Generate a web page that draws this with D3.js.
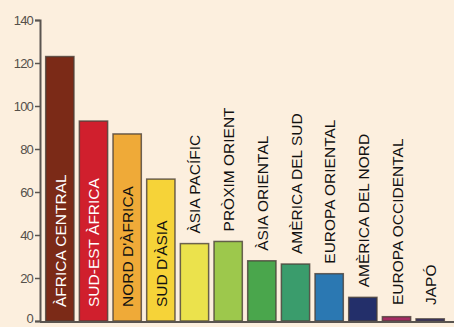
<!DOCTYPE html>
<html>
<head>
<meta charset="utf-8">
<script src="https://cdn.jsdelivr.net/npm/d3@7"></script>
<style>
  html, body { margin: 0; padding: 0; background: #fcefde; }
  svg { display: block; }
</style>
</head>
<body>
<div id="chart"></div>
<script>
// regions, in the order of the bars
var regions = ["ÀFRICA CENTRAL", "SUD-EST ÀFRICA", "NORD D'ÀFRICA", "SUD D'ÀSIA",
  "ÀSIA PACÍFIC", "PRÒXIM ORIENT", "ÀSIA ORIENTAL", "AMÈRICA DEL SUD",
  "EUROPA ORIENTAL", "AMÈRICA DEL NORD", "EUROPA OCCIDENTAL", "JAPÓ"];
var values = [123, 93, 87, 66, 36, 37, 28, 26.5, 22, 11, 2, 1];
var barColors = ["#7b2a17", "#d01f2d", "#efaa38", "#f6d338", "#ebe24c", "#9dc84c",
  "#4aa64c", "#3a9c6c", "#2b78b2", "#232f6a", "#a52b62", "#2d2b78"];
// labels drawn inside the bar (and their colour)
var insideLabel = [true, true, true, true, false, false, false, false, false, false, false, false];
var labelColors = ["#fff", "#fff", "#111", "#111", "#111", "#111", "#111", "#111", "#111", "#111", "#111", "#111"];
var yTicks = [0, 20, 40, 60, 80, 100, 120, 140];

var W = 454, H = 327;
var margin = {top: 20, right: 8, bottom: 6, left: 40};

var svg = d3.select("#chart").append("svg")
  .attr("width", W)
  .attr("height", H);

svg.append("rect").attr("width", W).attr("height", H).attr("fill", "#fcefde");

var x = d3.scaleBand()
  .domain(regions)
  .range([margin.left + 4, W - margin.right])
  .paddingInner(0.16)
  .paddingOuter(0.05);

var y = d3.scaleLinear()
  .domain([0, 140])
  .range([H - margin.bottom, margin.top]);

// bars
svg.selectAll(".bar")
  .data(values)
  .enter()
  .append("rect")
  .attr("class", "bar")
  .attr("x", function(d, i){ return x(regions[i]); })
  .attr("y", function(d){ return y(d); })
  .attr("width", x.bandwidth())
  .attr("height", function(d){ return y(0) - y(d); })
  .attr("fill", function(d, i){ return barColors[i]; })
  .attr("stroke", "#4a4038")
  .attr("stroke-opacity", 0.8)
  .attr("stroke-width", 1.5);

// rotated labels
svg.selectAll(".lbl")
  .data(values)
  .enter()
  .append("text")
  .attr("class", "lbl")
  .attr("transform", function(d, i){
    var cx = x(regions[i]) + x.bandwidth() / 2 + 6;
    var ys = insideLabel[i] ? y(0) - 14 : Math.min(y(0) - 16, y(d) - 10);
    return "translate(" + cx + "," + ys + ") rotate(-90)";
  })
  .attr("text-anchor", "start")
  .style("font-family", "'Liberation Sans', Arial, sans-serif")
  .style("font-size", "15.5px")
  .attr("fill", function(d, i){ return labelColors[i]; })
  .text(function(d, i){ return regions[i]; });

// y axis
var yAxis = d3.axisLeft(y)
  .tickValues(yTicks)
  .tickSize(5)
  .tickPadding(2);

var ax = svg.append("g")
  .attr("transform", "translate(" + margin.left + ",0)")
  .call(yAxis);
ax.select(".domain").attr("stroke", "#5a5550").attr("stroke-width", 2);
ax.selectAll(".tick line").attr("stroke", "#5a5550").attr("stroke-width", 1.5);
ax.selectAll(".tick text")
  .attr("fill", "#55504a")
  .style("font-family", "'Liberation Sans', Arial, sans-serif")
  .style("font-size", "13px")
  .style("letter-spacing", "-0.8px");
// keep the 0 label inside the picture
ax.selectAll(".tick text").filter(function(d){ return d === 0; }).attr("dy", "0.1em");

// baseline
svg.append("line")
  .attr("x1", margin.left)
  .attr("x2", W)
  .attr("y1", y(0) + 1)
  .attr("y2", y(0) + 1)
  .attr("stroke", "#5a5550")
  .attr("stroke-width", 2);
</script>
</body>
</html>
